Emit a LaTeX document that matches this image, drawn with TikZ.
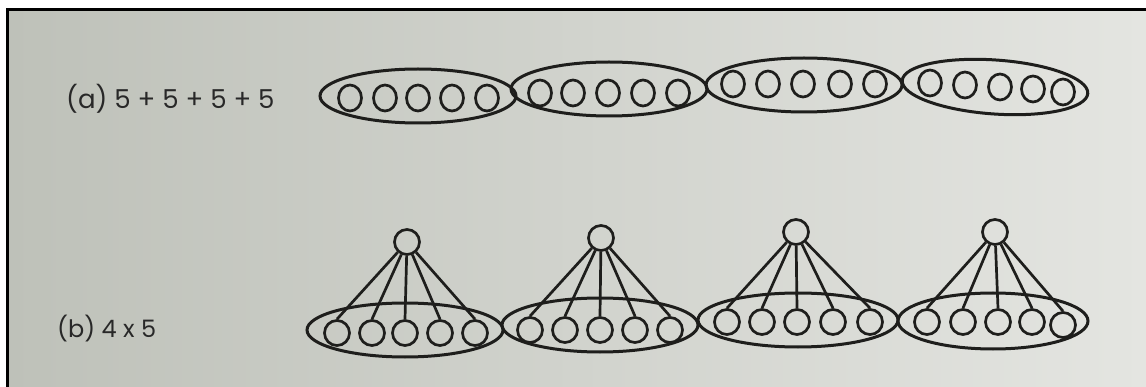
\documentclass[tikz,border=0pt]{standalone}
\usepackage{fontspec}
\setmainfont{Poppins}
\usetikzlibrary{shapes.geometric}
\definecolor{bgL}{RGB}{190,193,185}
\definecolor{bgR}{RGB}{228,229,225}
\definecolor{ink}{RGB}{30,30,28}
\definecolor{txt}{RGB}{40,40,40}
\tikzset{
  group/.style={draw=ink, ellipse, line width=3pt, inner sep=0pt, minimum width=196pt, minimum height=54pt},
  leaf/.style={draw=ink, ellipse, line width=2.7pt, inner sep=0pt, minimum width=23pt, minimum height=26pt},
  bleaf/.style={draw=ink, circle, line width=2.7pt, inner sep=0pt, minimum size=25pt},
  root/.style={draw=ink, circle, line width=2.7pt, inner sep=0pt, minimum size=25pt},
  conn/.style={draw=ink, line width=2.7pt},
  label/.style={anchor=west, text=txt, inner sep=0pt}
}
\begin{document}
\begin{tikzpicture}[x=1pt, y=-1pt]
\useasboundingbox (0,0) rectangle (1146,387);
\fill[white] (0,0) rectangle (1146,387);
\shade[left color=bgL, right color=bgR] (8,10) rectangle (1146,387);
\fill[black] (6,8) rectangle (1146,11);
\fill[black] (6,8) rectangle (9,387);

% (a)
\node[label, font={\fontsize{26}{30}\selectfont}] (la) at (66,99) {(a) 5 + 5 + 5 + 5};
\node[group] (g1) at (418,96) {};
\node[group] (g2) at (609,89) {};
\node[group] (g3) at (804,85) {};
\node[group, minimum width=186pt, rotate=-4] (g4) at (995,87) {};
\foreach \x [count=\i] in {350,385,418,452,487} \node[leaf] (a1\i) at (\x,98) {};
\foreach \x [count=\i] in {540,573,608,643,678} \node[leaf] (a2\i) at (\x,93) {};
\foreach \x [count=\i] in {733,768,803,840,875} \node[leaf] (a3\i) at (\x,84) {};
\foreach \x/\y [count=\i] in {930/83,965/85,1000/87,1033/89,1063/92} \node[leaf] (a4\i) at (\x,\y) {};

% (b)
\node[label, font={\fontsize{24}{28}\selectfont}] (lb) at (57,329) {(b) 4 x 5};
\node[group] (h1) at (405,330) {};
\node[group] (h2) at (600,325) {};
\node[group, minimum width=200pt] (h3) at (798,320) {};
\node[group, minimum width=190pt, minimum height=56pt] (h4) at (993,321) {};
\node[root] (r1) at (407,242) {};
\node[root] (r2) at (601,238) {};
\node[root] (r3) at (796,232) {};
\node[root] (r4) at (995,232) {};
\foreach \x [count=\i] in {337,372,405,440,475} \node[bleaf] (b1\i) at (\x,333) {};
\foreach \x [count=\i] in {530,565,600,635,670} \node[bleaf] (b2\i) at (\x,330) {};
\foreach \x [count=\i] in {727,762,797,833,870} \node[bleaf] (b3\i) at (\x,322) {};
\foreach \x/\y [count=\i] in {927/322,963/322,998/322,1032/322,1063/325} \node[bleaf] (b4\i) at (\x,\y) {};
\foreach \t in {1,2,3,4}
  \foreach \i in {1,...,5}
    \draw[conn] (r\t) -- (b\t\i.north);
\end{tikzpicture}
\end{document}
